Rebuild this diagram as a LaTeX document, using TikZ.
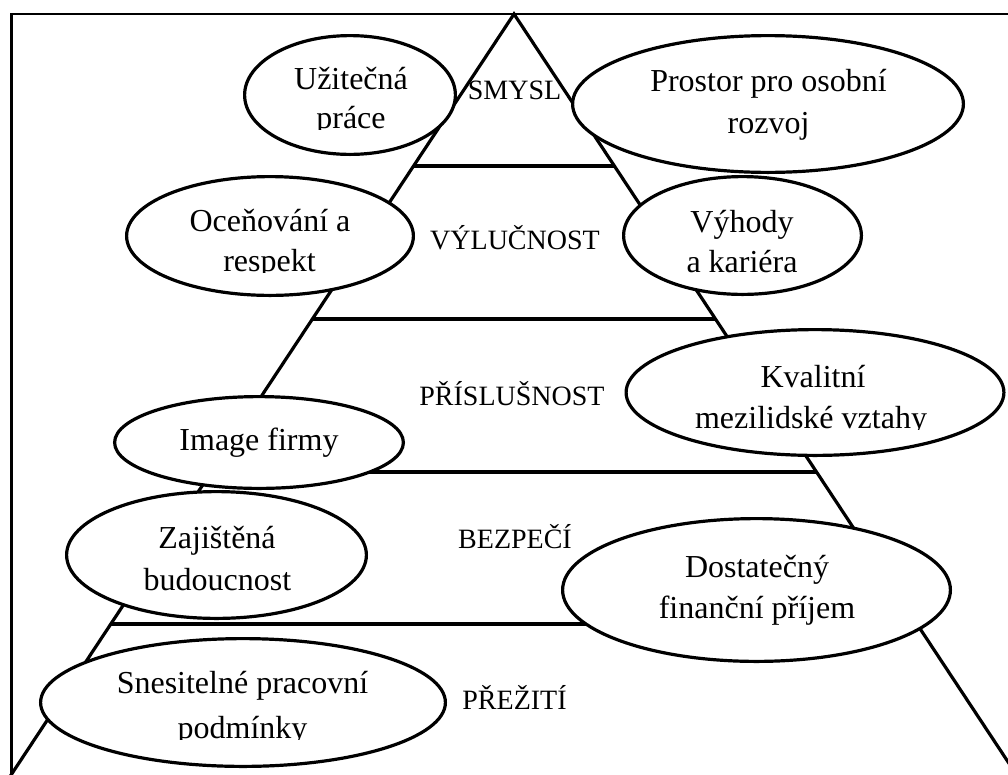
\documentclass[tikz,border=0pt]{standalone}
\usepackage{fontspec}
\setmainfont{Liberation Serif}
\usetikzlibrary{shapes.geometric}
\begin{document}
\begin{tikzpicture}[x=1pt,y=-1pt,
  pyr/.style={line width=3.2pt},
  ell/.style={ellipse,draw,fill=white,line width=3.2pt,inner sep=0pt},
  etext/.style={anchor=base,inner sep=0pt,font=\fontsize{32}{38}\selectfont},
  lvl/.style={anchor=base,inner sep=0pt,font=\fontsize{28}{34}\selectfont}]
\useasboundingbox (0,0) rectangle (1008,774);
\clip (0,0) rectangle (1008,774);
% pyramid
\coordinate (apex) at (514,14);
\coordinate (bl) at (7.7,780);
\coordinate (br) at (1020,780);
\draw[pyr,line join=miter] (bl) -- (apex) -- (br);
\coordinate (h1l) at (413.5,166); \coordinate (h1r) at (614.5,166);
\coordinate (h2l) at (312.4,319); \coordinate (h2r) at (715.6,319);
\coordinate (h3l) at (211.3,472); \coordinate (h3r) at (816.7,472);
\coordinate (h4l) at (110.2,624); \coordinate (h4r) at (917.8,624);
\draw[pyr] (h1l) -- (h1r);
\draw[pyr] (h2l) -- (h2r);
\draw[pyr] (h3l) -- (h3r);
\draw[pyr] (h4l) -- (h4r);
% frame
\coordinate (ftl) at (10,14); \coordinate (ftr) at (1010,14);
\coordinate (fl1) at (11.5,13); \coordinate (fl2) at (11.5,780);
\draw[line width=2pt] (ftl) -- (ftr);
\draw[line width=3pt] (fl1) -- (fl2);
% ellipses
\node[ell,minimum width=210.8pt,minimum height=118.8pt] (e1) at (350,95) {};
\node[ell,minimum width=390.8pt,minimum height=136.8pt] (e2) at (768,104) {};
\node[ell,minimum width=286.8pt,minimum height=118.8pt] (e3) at (270,236) {};
\node[ell,minimum width=237.8pt,minimum height=117.8pt] (e4) at (742.5,235.5) {};
\node[ell,minimum width=377.8pt,minimum height=125.8pt] (e5) at (815,392.5) {};
\node[ell,minimum width=288.8pt,minimum height=91.8pt] (e6) at (259,442.5) {};
\node[ell,minimum width=299.8pt,minimum height=126.8pt] (e7) at (216.5,555) {};
\node[ell,minimum width=404.8pt,minimum height=127.8pt] (e8) at (243,702.5) {};
\node[ell,minimum width=387.8pt,minimum height=142.8pt] (e9) at (756.5,590) {};
% ellipse texts
\node[etext] (t1a) at (351,89) {Užitečná};
\begin{scope}
  \clip (240,95) rectangle (460,129);
  \node[etext] (t1b) at (351,128) {práce};
\end{scope}
\node[etext] (t2a) at (768.5,91) {Prostor pro osobní};
\node[etext] (t2b) at (768.5,133) {rozvoj};
\node[etext] (t3a) at (270,231) {Oceňování a};
\begin{scope}
  \clip (130,238) rectangle (410,272);
  \node[etext] (t3b) at (269.5,271) {respekt};
\end{scope}
\node[etext] (t4a) at (742,232) {Výhody};
\node[etext] (t4b) at (742,272) {a kariéra};
\node[etext] (t5a) at (813,387) {Kvalitní};
\begin{scope}
  \clip (630,394) rectangle (1000,429);
  \node[etext] (t5b) at (811,428) {mezilidské vztahy};
\end{scope}
\node[etext] (t6) at (259,450) {Image firmy};
\node[etext] (t7a) at (217,548) {Zajištěná};
\node[etext] (t7b) at (217.5,590) {budoucnost};
\node[etext] (t8a) at (242.5,693) {Snesitelné pracovní};
\begin{scope}
  \clip (60,700) rectangle (440,739);
  \node[etext] (t8b) at (242.5,738) {podmínky};
\end{scope}
\node[etext] (t9a) at (757,577) {Dostatečný};
\node[etext] (t9b) at (757,618) {finanční příjem};
% level labels
\node[lvl] (l1) at (514.5,99) {SMYSL};
\node[lvl] (l2) at (515,249) {VÝLUČNOST};
\node[lvl] (l3) at (512,405) {PŘÍSLUŠNOST};
\node[lvl] (l4) at (515,548) {BEZPEČÍ};
\node[lvl] (l5) at (514.5,709) {PŘEŽITÍ};
\end{tikzpicture}
\end{document}
